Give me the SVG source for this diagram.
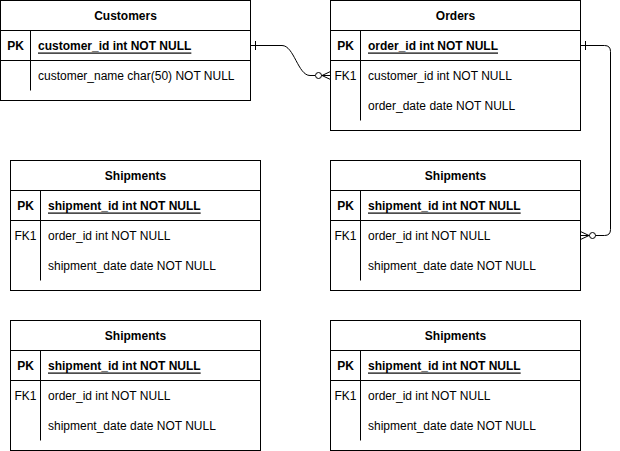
<svg xmlns="http://www.w3.org/2000/svg" width="620" height="451" viewBox="0 0 620 451">
<style>
.box{fill:#fff;stroke:#000;stroke-width:1}
.ln{stroke:#000;stroke-width:1;fill:none}
text{font-family:"Liberation Sans",Arial,sans-serif;font-size:12px;fill:#000;dominant-baseline:central}
.h{font-weight:bold;text-anchor:middle}
.k{text-anchor:middle}
.pk{font-weight:bold;text-decoration:underline}
.c{stroke:#000;stroke-width:1;fill:none}
</style>
<rect width="620" height="451" fill="#fff"/>
<g id="customers">
<rect class="box" x="0.5" y="0.5" width="250" height="100"/>
<line class="ln" x1="0.5" y1="30.5" x2="250.5" y2="30.5"/>
<line class="ln" x1="0.5" y1="60.5" x2="250.5" y2="60.5"/>
<line class="ln" x1="30.5" y1="30.5" x2="30.5" y2="90.5"/>
<text class="h" x="125.5" y="15.5">Customers</text>
<text class="k" x="15.5" y="45.5" style="font-weight:bold">PK</text>
<text class="pk" x="38" y="45.5">customer_id int NOT NULL</text>
<text x="38" y="75.5">customer_name char(50) NOT NULL</text>
</g>
<g id="orders">
<rect class="box" x="330.5" y="0.5" width="250" height="130"/>
<line class="ln" x1="330.5" y1="30.5" x2="580.5" y2="30.5"/>
<line class="ln" x1="330.5" y1="60.5" x2="580.5" y2="60.5"/>
<line class="ln" x1="360.5" y1="30.5" x2="360.5" y2="120.5"/>
<text class="h" x="455.5" y="15.5">Orders</text>
<text class="k" x="345.5" y="45.5" style="font-weight:bold">PK</text>
<text class="pk" x="368" y="45.5">order_id int NOT NULL</text>
<text class="k" x="345.5" y="75.5">FK1</text>
<text x="368" y="75.5">customer_id int NOT NULL</text>
<text x="368" y="105.5">order_date date NOT NULL</text>
</g>
<g id="shipments1">
<rect class="box" x="10.5" y="160.5" width="250" height="130"/>
<line class="ln" x1="10.5" y1="190.5" x2="260.5" y2="190.5"/>
<line class="ln" x1="10.5" y1="220.5" x2="260.5" y2="220.5"/>
<line class="ln" x1="40.5" y1="190.5" x2="40.5" y2="280.5"/>
<text class="h" x="135.5" y="175.5">Shipments</text>
<text class="k" x="25.5" y="205.5" style="font-weight:bold">PK</text>
<text class="pk" x="48" y="205.5">shipment_id int NOT NULL</text>
<text class="k" x="25.5" y="235.5">FK1</text>
<text x="48" y="235.5">order_id int NOT NULL</text>
<text x="48" y="265.5">shipment_date date NOT NULL</text>
</g>
<g id="shipments2">
<rect class="box" x="330.5" y="160.5" width="250" height="130"/>
<line class="ln" x1="330.5" y1="190.5" x2="580.5" y2="190.5"/>
<line class="ln" x1="330.5" y1="220.5" x2="580.5" y2="220.5"/>
<line class="ln" x1="360.5" y1="190.5" x2="360.5" y2="280.5"/>
<text class="h" x="455.5" y="175.5">Shipments</text>
<text class="k" x="345.5" y="205.5" style="font-weight:bold">PK</text>
<text class="pk" x="368" y="205.5">shipment_id int NOT NULL</text>
<text class="k" x="345.5" y="235.5">FK1</text>
<text x="368" y="235.5">order_id int NOT NULL</text>
<text x="368" y="265.5">shipment_date date NOT NULL</text>
</g>
<g id="shipments3">
<rect class="box" x="10.5" y="320.5" width="250" height="130"/>
<line class="ln" x1="10.5" y1="350.5" x2="260.5" y2="350.5"/>
<line class="ln" x1="10.5" y1="380.5" x2="260.5" y2="380.5"/>
<line class="ln" x1="40.5" y1="350.5" x2="40.5" y2="440.5"/>
<text class="h" x="135.5" y="335.5">Shipments</text>
<text class="k" x="25.5" y="365.5" style="font-weight:bold">PK</text>
<text class="pk" x="48" y="365.5">shipment_id int NOT NULL</text>
<text class="k" x="25.5" y="395.5">FK1</text>
<text x="48" y="395.5">order_id int NOT NULL</text>
<text x="48" y="425.5">shipment_date date NOT NULL</text>
</g>
<g id="shipments4">
<rect class="box" x="330.5" y="320.5" width="250" height="130"/>
<line class="ln" x1="330.5" y1="350.5" x2="580.5" y2="350.5"/>
<line class="ln" x1="330.5" y1="380.5" x2="580.5" y2="380.5"/>
<line class="ln" x1="360.5" y1="350.5" x2="360.5" y2="440.5"/>
<text class="h" x="455.5" y="335.5">Shipments</text>
<text class="k" x="345.5" y="365.5" style="font-weight:bold">PK</text>
<text class="pk" x="368" y="365.5">shipment_id int NOT NULL</text>
<text class="k" x="345.5" y="395.5">FK1</text>
<text x="368" y="395.5">order_id int NOT NULL</text>
<text x="368" y="425.5">shipment_date date NOT NULL</text>
</g>
<g id="connectors">
<path class="c" d="M250.5 45.5 H282 C294 45.5 298 75.5 310 75.5 H315"/>
<line class="c" x1="255.5" y1="41" x2="255.5" y2="50"/>
<circle class="c" cx="318.5" cy="75.5" r="3" fill="#fff"/>
<path class="c" d="M321.5 75.5 H330.5 M322 75.5 L330.5 71.5 M322 75.5 L330.5 79.5"/>
<path class="c" d="M580.5 45.5 H604.5 Q610.5 45.5 610.5 51.5 V229.5 Q610.5 235.5 604.5 235.5 H595.5"/>
<line class="c" x1="585.5" y1="41" x2="585.5" y2="50"/>
<circle class="c" cx="592.5" cy="235.5" r="3" fill="#fff"/>
<path class="c" d="M589.5 235.5 H580.5 M589 235.5 L580.5 231.5 M589 235.5 L580.5 239.5"/>
</g>
</svg>
